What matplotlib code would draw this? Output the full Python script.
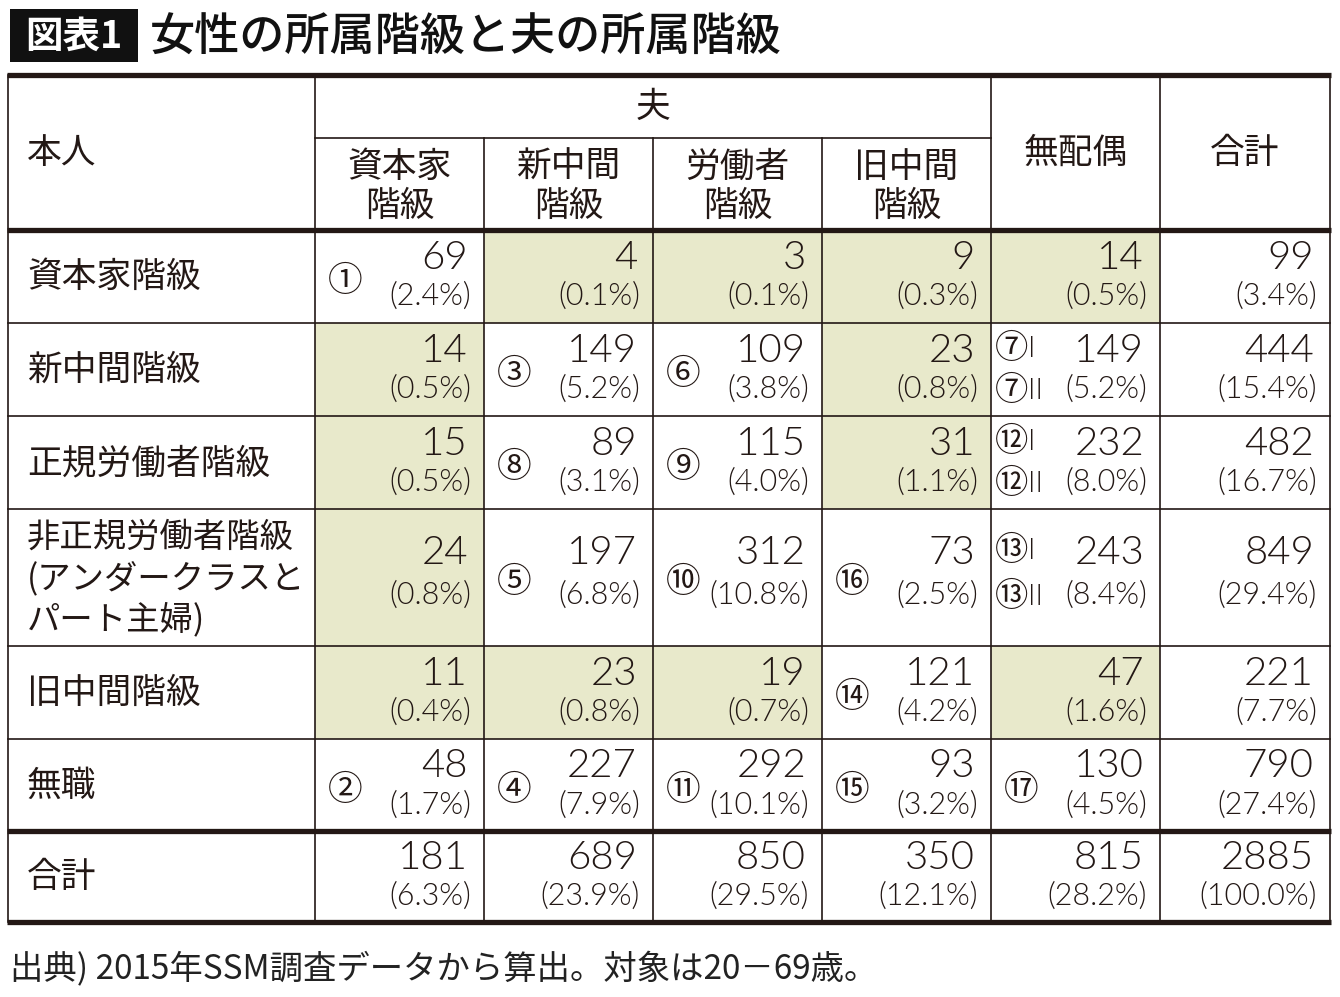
import matplotlib
matplotlib.use('Agg')
import matplotlib.pyplot as plt
from matplotlib.patches import Rectangle

# 日本語フォント
plt.rcParams['font.family'] = ['Noto Sans CJK JP', 'DejaVu Sans']
num_font = ['Lato', 'Noto Sans CJK JP']

# データ
title_tag = '図表1'
title = '女性の所属階級と夫の所属階級'
note = '出典) 2015年SSM調査データから算出。対象は20－69歳。'
row_labels = ['資本家階級', '新中間階級', '正規労働者階級',
              '非正規労働者階級\n(アンダークラスと\nパート主婦)',
              '旧中間階級', '無職', '合計']
husband_labels = ['資本家\n階級', '新中間\n階級', '労働者\n階級', '旧中間\n階級']
other_labels = ['無配偶', '合計']
counts = [
    [69, 4, 3, 9, 14, 99],
    [14, 149, 109, 23, 149, 444],
    [15, 89, 115, 31, 232, 482],
    [24, 197, 312, 73, 243, 849],
    [11, 23, 19, 121, 47, 221],
    [48, 227, 292, 93, 130, 790],
    [181, 689, 850, 350, 815, 2885],
]
pcts = [
    [2.4, 0.1, 0.1, 0.3, 0.5, 3.4],
    [0.5, 5.2, 3.8, 0.8, 5.2, 15.4],
    [0.5, 3.1, 4.0, 1.1, 8.0, 16.7],
    [0.8, 6.8, 10.8, 2.5, 8.4, 29.4],
    [0.4, 0.8, 0.7, 4.2, 1.6, 7.7],
    [1.7, 7.9, 10.1, 3.2, 4.5, 27.4],
    [6.3, 23.9, 29.5, 12.1, 28.2, 100.0],
]
# 網掛けセル
shade = [
    [0, 1, 1, 1, 1, 0],
    [1, 0, 0, 1, 0, 0],
    [1, 0, 0, 1, 0, 0],
    [1, 0, 0, 0, 0, 0],
    [1, 1, 1, 0, 1, 0],
    [0, 0, 0, 0, 0, 0],
    [0, 0, 0, 0, 0, 0],
]
# 丸数字
marks = [
    ['①', '', '', '', '', ''],
    ['', '③', '⑥', '', ('⑦', '⑦'), ''],
    ['', '⑧', '⑨', '', ('⑫', '⑫'), ''],
    ['', '⑤', '⑩', '⑯', ('⑬', '⑬'), ''],
    ['', '', '', '⑭', '', ''],
    ['②', '④', '⑪', '⑮', '⑰', ''],
    ['', '', '', '', '', ''],
]
sub_marks = ['I', 'II']

# レイアウト (ピクセル)
W, H = 1340, 997
col_x = [8, 315, 484, 653, 822, 991, 1160, 1330]
row_y = [75, 230, 323, 416, 509, 646, 739, 831, 922]
head_split = 138
ink = '#231815'
shade_color = '#E8E9CB'

fig = plt.figure(figsize=(W / 100, H / 100), dpi=100)
ax = fig.add_axes([0, 0, 1, 1])
ax.set_xlim(0, W)
ax.set_ylim(H, 0)
ax.axis('off')

# タイトル
ax.add_patch(Rectangle((10, 9), 128, 53, color='#111111', lw=0))
ax.text(74, 36, title_tag, color='white', fontsize=27, fontweight='bold',
        ha='center', va='center')
ax.text(150, 37, title, color='#111111', fontsize=32.5, fontweight='medium',
        ha='left', va='center')

# 網掛け
body_rows = row_y[1:]
for r in range(len(counts)):
    for c in range(len(counts[r])):
        if shade[r][c]:
            ax.add_patch(Rectangle((col_x[c + 1], body_rows[r]),
                                   col_x[c + 2] - col_x[c + 1],
                                   body_rows[r + 1] - body_rows[r],
                                   color=shade_color, lw=0, zorder=0))

# 罫線
thin = 1.2
thick = 3.8
for y in [row_y[0], row_y[1], row_y[-2], row_y[-1]]:
    ax.plot([col_x[0] - 1, col_x[-1] + 1], [y, y], color=ink, lw=thick, solid_capstyle='butt')
for y in row_y[2:-2]:
    ax.plot([col_x[0], col_x[-1]], [y, y], color=ink, lw=thin)
ax.plot([col_x[1], col_x[5]], [head_split, head_split], color=ink, lw=thin)
for i, x in enumerate(col_x):
    top = head_split if i in (2, 3, 4) else row_y[0]
    ax.plot([x, x], [top, row_y[-1]], color=ink, lw=thin)

# 見出し
fs_label = 25
ax.text(27, 153, '本人', fontsize=fs_label, color=ink, ha='left', va='center')
ax.text((col_x[1] + col_x[5]) / 2, (row_y[0] + head_split) / 2 + 1, '夫',
        fontsize=fs_label, color=ink, ha='center', va='center')
for i, lab in enumerate(husband_labels):
    ax.text((col_x[i + 1] + col_x[i + 2]) / 2, (head_split + row_y[1]) / 2 + 3, lab,
            fontsize=fs_label, color=ink, ha='center', va='center', linespacing=1.15)
for i, lab in enumerate(other_labels):
    ax.text((col_x[i + 5] + col_x[i + 6]) / 2, 153, lab,
            fontsize=fs_label, color=ink, ha='center', va='center')

# 行ラベル
for r, lab in enumerate(row_labels):
    mid = (body_rows[r] + body_rows[r + 1]) / 2
    fs = 24 if '\n' in lab else fs_label
    ax.text(27, mid + 1, lab, fontsize=fs, color=ink, ha='left', va='center',
            linespacing=1.25)

# 数値
for r in range(len(counts)):
    mid = (body_rows[r] + body_rows[r + 1]) / 2
    y_num = mid - 19
    y_pct = mid + 20
    if r == 3:
        y_num, y_pct = mid - 25, mid + 18
    for c in range(len(counts[r])):
        right = col_x[c + 2]
        left = col_x[c + 1]
        ax.text(right - 16, y_num, str(counts[r][c]), fontsize=29, color=ink,
                family=num_font, fontweight=300, ha='right', va='center')
        ax.text(right - 13, y_pct, '(%.1f%%)' % pcts[r][c], fontsize=22, color=ink,
                family=num_font, fontweight=300, ha='right', va='center')
        m = marks[r][c]
        if isinstance(m, tuple):
            for k, yy in enumerate([y_num - 2, y_pct + 1]):
                ax.text(left + 4, yy, m[k], fontsize=24, color=ink, ha='left', va='center')
                ax.text(left + 37, yy, sub_marks[k], fontsize=21, color=ink,
                        family=num_font, fontweight=300, ha='left', va='center')
        elif m:
            ax.text(left + 13, mid + 5, m, fontsize=25, color=ink, ha='left', va='center')

# 出典
ax.text(10, 970, note, fontsize=24, color='#222222', ha='left', va='center')

fig.savefig('out.png', dpi=100, facecolor='white')
